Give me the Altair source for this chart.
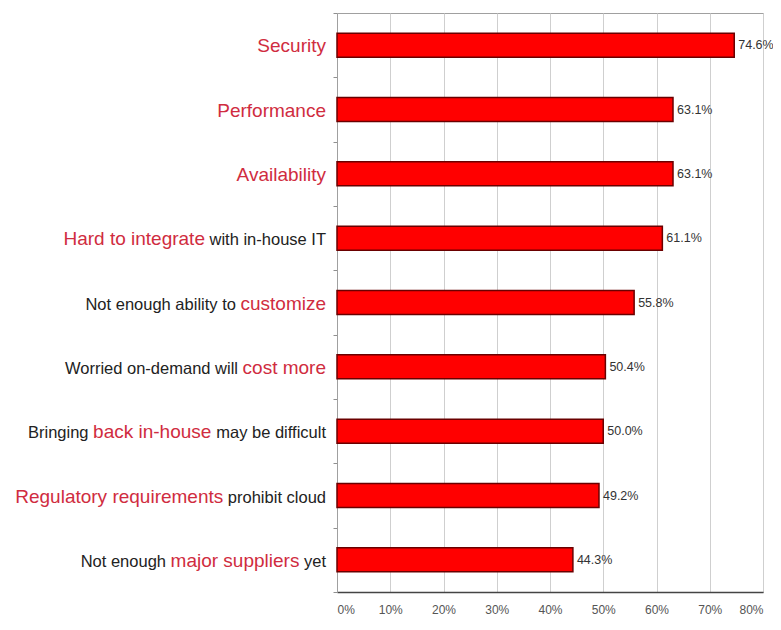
import altair as alt
import pandas as pd

categories = [
    "Security", "Performance", "Availability", "Hard to integrate",
    "Not enough ability to customize", "Worried on-demand will cost more",
    "Bringing back in-house", "Regulatory requirements", "Not enough major suppliers",
]
values = [74.6, 63.1, 63.1, 61.1, 55.8, 50.4, 50.0, 49.2, 44.3]
label_pre = ["", "", "", "", "Not enough ability to", "Worried on-demand will",
             "Bringing", "", "Not enough"]
label_red = ["Security", "Performance", "Availability", "Hard to integrate",
             "customize", "cost more", "back in-house", "Regulatory requirements",
             "major suppliers"]
label_post = ["", "", "", "with in-house IT", "", "", "may be difficult",
              "prohibit cloud", "yet"]
x_ticks = [0, 10, 20, 30, 40, 50, 60, 70, 80]

FONT = "Liberation Sans, Arial"
RED_TXT = "#d02c40"
BLK_TXT = "#222222"
RED_SIZE = 19
BLK_SIZE = 16.5

# Arial / Liberation Sans advance widths (per 1000 em)
W = dict(a=556, b=556, c=500, d=556, e=556, f=278, g=556, h=556, i=222, j=222,
         k=500, l=222, m=833, n=556, o=556, p=556, q=556, r=333, s=500, t=278,
         u=556, v=500, w=722, x=500, y=500, z=500)
W.update({"A": 667, "B": 667, "H": 722, "I": 278, "N": 722, "P": 667, "R": 722,
          "S": 667, "T": 611, "W": 944, " ": 278, "-": 333})


def text_width(s, size):
    return sum(W.get(ch, 556) for ch in s) / 1000.0 * size


GAP = 11
seg_rows = []
for cat, pre, red, post in zip(categories, label_pre, label_red, label_post):
    right = -GAP
    for txt, col, size in ((post, BLK_TXT, BLK_SIZE), (red, RED_TXT, RED_SIZE),
                           (pre, BLK_TXT, BLK_SIZE)):
        if not txt:
            continue
        seg_rows.append(dict(cat=cat, txt=txt, col=col, size=size, xpos=right))
        right -= text_width(txt, size) + text_width(" ", BLK_SIZE)

segs = pd.DataFrame(seg_rows)
bars_df = pd.DataFrame({"cat": categories, "v": values})

y_enc = alt.Y("cat:N", sort=categories, title=None,
              scale=alt.Scale(paddingInner=0, paddingOuter=0),
              axis=alt.Axis(labels=False, domainColor="#a0a0a0", tickColor="#909090",
                            tickSize=4, tickBand="extent", grid=False, title=None))

bars = alt.Chart(bars_df).mark_bar(
    size=24, color="#ff0000", stroke="#6a0000", strokeWidth=1.5
).encode(
    x=alt.X("v:Q", scale=alt.Scale(domain=[0, 80], nice=False),
            axis=alt.Axis(values=x_ticks, labelExpr="datum.value + '%'", title=None,
                          ticks=False, labelPadding=12, labelFont=FONT,
                          labelFontSize=12, labelColor="#555555",
                          domainColor="#444444", domainWidth=1.5,
                          grid=True, gridColor="#cfcfcf", gridWidth=1)),
    y=y_enc,
)

vals = alt.Chart(bars_df).transform_calculate(
    lab="format(datum.v, '.1f') + '%'"
).mark_text(align="left", baseline="middle", dx=4, font=FONT, fontSize=12.5,
            color="#333333").encode(
    x="v:Q", y=alt.Y("cat:N", sort=categories), text="lab:N"
)

labels = alt.Chart(segs).mark_text(align="right", baseline="alphabetic", dy=7,
                                   font=FONT).encode(
    x=alt.X("xpos:Q", scale=None, axis=None),
    y=alt.Y("cat:N", sort=categories),
    text="txt:N",
    color=alt.Color("col:N", scale=None),
    size=alt.Size("size:Q", scale=None),
)

chart = alt.layer(bars, vals, labels).properties(
    width=426, height=579,
    autosize=alt.AutoSizeParams(type="none"),
    padding={"left": 329, "top": 5, "right": 10, "bottom": 26},
).configure_view(stroke="#a0a0a0", strokeWidth=1)

chart.save("out.html", embed_options={"renderer": "svg", "actions": False})
